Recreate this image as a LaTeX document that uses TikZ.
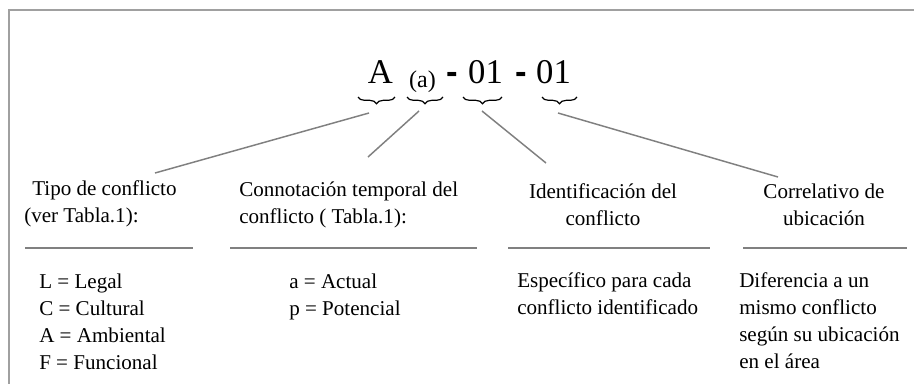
\documentclass[tikz,border=0pt]{standalone}
\usepackage{fontspec}
\setmainfont{Liberation Serif}
\newfontfamily\hyfont{Liberation Sans}
\usetikzlibrary{decorations.pathreplacing}
\definecolor{conncol}{RGB}{128,128,128}
\definecolor{framecol}{RGB}{160,160,160}
\begin{document}
\begin{tikzpicture}[x=0.75pt,y=-0.75pt,
  lbl/.style={font=\fontsize{15.8}{20.25}\selectfont, inner sep=0pt},
  code/.style={font=\fontsize{26}{30}\selectfont, inner sep=0pt, anchor=base},
  small/.style={font=\fontsize{18}{22}\selectfont, inner sep=0pt, anchor=base},
  hyph/.style={font=\hyfont\bfseries\fontsize{26}{30}\selectfont, inner sep=0pt, anchor=base},
  brc/.style={draw=black, line width=0.9pt, decorate, decoration={brace, mirror, amplitude=5pt}},
  conn/.style={draw=conncol, line width=1.1pt},
  sepline/.style={draw=conncol, line width=1.1pt},
  frame/.style={draw=framecol, line width=1.5pt}]
\useasboundingbox (0,0) rectangle (914,383);
\clip (0,0) rectangle (914,383);
\fill[white] (0,0) rectangle (914,383);
% frame
\draw[frame] (8.5,10) rectangle (940,410);
% code
\node[code] (A) at (380.5,83) {A};
\node[small] (a) at (422.5,87) {(a)};
\node[hyph] (h1) at (452.5,83) {-};
\node[code] (n1) at (485.5,83) {01};
\node[hyph] (h2) at (521.5,83) {-};
\node[code] (n2) at (553.5,83) {01};
% braces
\draw[brc] (358,97) -- (395,97);
\draw[brc] (407,97) -- (443,97);
\draw[brc] (463,97) -- (502,97);
\draw[brc] (542,97) -- (577,97);
% connector ends
\coordinate (s1) at (369,113);
\coordinate (s2) at (419,111);
\coordinate (s3) at (482,111);
\coordinate (s4) at (558,113);
\coordinate (e1) at (155,173);
\coordinate (e2) at (368,157);
\coordinate (e3) at (546,163);
\coordinate (e4) at (778,177);
\draw[conn] (s1) -- (e1);
\draw[conn] (s2) -- (e2);
\draw[conn] (s3) -- (e3);
\draw[conn] (s4) -- (e4);
% labels (base anchor = baseline of last line)
\node[lbl, align=left, anchor=base west] (L1) at (24,222) {\hspace{6pt}Tipo de conflicto\\(ver Tabla.1):};
\node[lbl, align=left, anchor=base west] (L2) at (239,223) {Connotación temporal del\\conflicto ( Tabla.1):};
\node[lbl, align=center, anchor=base] (L3) at (603,225) {Identificación del\\conflicto};
\node[lbl, align=center, anchor=base] (L4) at (824,225) {Correlativo de\\ubicación};
% separators
\draw[sepline] (25,248) -- (193,248);
\draw[sepline] (230,248) -- (477,248);
\draw[sepline] (508,248) -- (710,248);
\draw[sepline] (743,248) -- (907,248);
% descriptions
\node[lbl, align=left, anchor=base west] (D1) at (39,369) {L = Legal\\C = Cultural\\A = Ambiental\\F = Funcional};
\node[lbl, align=left, anchor=base west] (D2) at (289,315) {a = Actual\\p = Potencial};
\node[lbl, align=left, anchor=base west] (D3) at (517,314) {Específico para cada\\conflicto identificado};
\node[lbl, align=left, anchor=base west] (D4) at (739,368) {Diferencia a un\\mismo conflicto\\según su ubicación\\en el área};
\end{tikzpicture}
\end{document}
